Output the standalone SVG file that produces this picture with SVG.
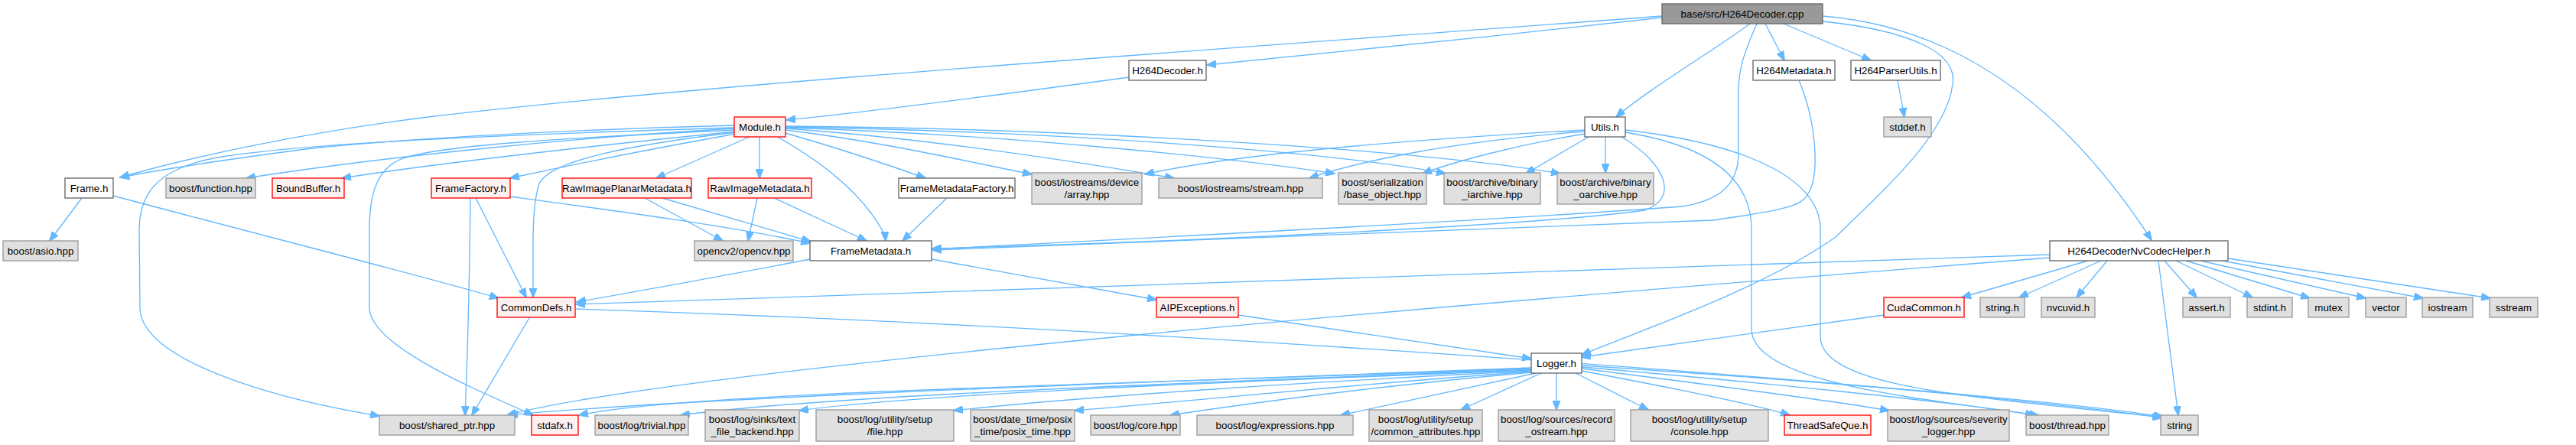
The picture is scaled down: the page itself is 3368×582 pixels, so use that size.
<svg xmlns="http://www.w3.org/2000/svg" width="3368" height="582" viewBox="0 0 3368 582">
<style>
.n rect{stroke-width:1.33}
.w rect{fill:#ffffff;stroke:#666666}
.g rect{fill:#e0e0e0;stroke:#999999}
.r rect{fill:#fff0f0;stroke:#ff0000}
.root rect{fill:#999999;stroke:#666666}
text{font-family:"Liberation Sans",Arial,sans-serif;font-size:13.33px;fill:#000;text-anchor:middle}
.e path{fill:none;stroke:#63b8ff;stroke-width:1.33;marker-end:url(#ah)}
</style>
<defs>
<marker id="ah" viewBox="0 0 13 10" refX="12" refY="5" markerWidth="13" markerHeight="10" markerUnits="userSpaceOnUse" orient="auto">
<path d="M0,0 L13,5 L0,10 z" fill="#63b8ff" stroke="#63b8ff"/>
</marker>
</defs>
<rect width="3368" height="582" fill="#ffffff"/>
<g id="edges" class="e">
<path d="M2173,23 C1980,45 1750,68 1578,85"/>
<path d="M2173,21 C1600,64 900,112 560,153 C400,173 250,205 157,232"/>
<path d="M2308,31 L2333,79"/>
<path d="M2332,31 L2446,79"/>
<path d="M2288,31 C2250,60 2150,120 2113,153"/>
<path d="M2297,31 C2280,70 2273,90 2273,120 L2273,200 C2273,240 2250,262 2200,270 C1900,292 1400,316 1219,326"/>
<path d="M2352,105 C2375,160 2380,230 2363,255 C2355,268 2340,274 2240,288 C1800,306 1400,320 1219,327"/>
<path d="M2120,179 C2180,215 2195,260 2150,275 C2000,296 1500,318 1219,325"/>
<path d="M2383,28 C2500,40 2560,70 2553,110 C2545,180 2450,260 2400,310 C2300,380 2150,430 2068,464"/>
<path d="M2383,21 C2560,35 2700,140 2813,314"/>
<path d="M2481,105 L2490,153"/>
<path d="M1476,101 C1300,125 1150,145 1028,157"/>
<path d="M960,164 C800,168 560,178 400,195 C300,208 220,220 157,232"/>
<path d="M960,167 C700,175 420,185 290,205 C210,218 182,250 182,300 L183,403 C185,470 350,520 496,544"/>
<path d="M960,170 C750,180 560,190 520,210 C490,225 483,260 483,300 L483,403 C485,450 600,500 697,543"/>
<path d="M960,168 C750,180 500,205 322,233"/>
<path d="M962,172 C780,190 560,215 447,233"/>
<path d="M962,175 C850,195 750,215 667,233"/>
<path d="M962,173 C820,190 720,210 705,240 C695,270 697,320 697,389"/>
<path d="M980,179 L858,233"/>
<path d="M993,179 L993,233"/>
<path d="M1015,178 C1070,210 1110,240 1140,280 C1150,295 1157,305 1158,315"/>
<path d="M1027,174 C1100,195 1160,215 1210,233"/>
<path d="M1027,170 C1150,185 1250,208 1349,228"/>
<path d="M1027,168 C1200,180 1400,210 1535,233"/>
<path d="M1027,167 C1300,175 1600,205 1745,227"/>
<path d="M1027,166 C1400,172 1750,200 1890,227"/>
<path d="M1027,165 C1400,168 1850,195 2040,227"/>
<path d="M107,259 L65,315"/>
<path d="M148,256 C350,310 550,360 652,390"/>
<path d="M615,259 C614,350 612,450 608,543"/>
<path d="M622,259 L688,389"/>
<path d="M667,257 C800,275 950,295 1059,318"/>
<path d="M843,259 L945,315"/>
<path d="M866,259 L1060,316"/>
<path d="M990,259 L978,315"/>
<path d="M1012,259 L1133,315"/>
<path d="M1238,259 L1180,315"/>
<path d="M1059,339 C950,360 850,378 754,395"/>
<path d="M1218,339 L1512,392"/>
<path d="M693,414 L617,543"/>
<path d="M753,404 C1400,425 2400,490 2826,546"/>
<path d="M1619,412 L2002,469"/>
<path d="M2463,412 L2068,467"/>
<path d="M2680,333 C2000,355 1200,385 753,398"/>
<path d="M2680,337 C2000,390 900,480 663,543"/>
<path d="M2730,341 L2565,389"/>
<path d="M2747,341 L2640,389"/>
<path d="M2755,341 L2715,389"/>
<path d="M2830,341 L2872,389"/>
<path d="M2845,341 L2945,389"/>
<path d="M2858,341 L3020,390"/>
<path d="M2877,341 L3093,390"/>
<path d="M2900,340 L3168,390"/>
<path d="M2913,338 L3256,390"/>
<path d="M2822,341 L2848,543"/>
<path d="M2002,481 C1500,500 900,520 665,543"/>
<path d="M2002,482 C1500,502 900,512 757,543"/>
<path d="M2002,483 C1600,500 1100,515 890,543"/>
<path d="M2002,484 C1600,500 1200,515 1045,537"/>
<path d="M2002,485 C1700,500 1400,520 1247,537"/>
<path d="M2002,486 C1800,500 1550,525 1405,537"/>
<path d="M2002,487 C1800,505 1650,525 1530,543"/>
<path d="M2008,488 L1753,543"/>
<path d="M2015,488 L1910,536"/>
<path d="M2035,488 L2035,536"/>
<path d="M2060,488 L2155,536"/>
<path d="M2068,485 C2200,510 2300,530 2340,543"/>
<path d="M2068,482 C2250,505 2400,525 2470,537"/>
<path d="M2068,480 C2300,500 2550,525 2660,543"/>
<path d="M2068,478 C2400,500 2700,525 2828,545"/>
<path d="M2072,170 C1800,185 1600,205 1497,228"/>
<path d="M2072,172 C1900,185 1780,210 1712,233"/>
<path d="M2072,175 C1980,190 1900,212 1860,227"/>
<path d="M2077,179 L1995,227"/>
<path d="M2099,179 L2099,226"/>
<path d="M2125,173 C2230,190 2290,230 2290,300 L2290,430 C2290,500 2500,520 2665,543"/>
<path d="M2125,170 C2300,190 2380,240 2380,300 L2380,440 C2380,510 2600,520 2828,546"/>
</g>
<g id="n1" class="n root"><rect x="2173" y="5" width="210" height="26"/><text x="2278" y="22.5">base/src/H264Decoder.cpp</text></g>
<g id="n2" class="n w"><rect x="1476" y="79" width="101" height="26"/><text x="1526.5" y="96.5">H264Decoder.h</text></g>
<g id="n3" class="n w"><rect x="2292" y="79" width="107" height="26"/><text x="2345.5" y="96.5">H264Metadata.h</text></g>
<g id="n4" class="n w"><rect x="2420" y="79" width="117" height="26"/><text x="2478.5" y="96.5">H264ParserUtils.h</text></g>
<g id="n5" class="n r"><rect x="960" y="153" width="67" height="26"/><text x="993.5" y="170.5">Module.h</text></g>
<g id="n6" class="n w"><rect x="2072" y="153" width="53" height="26"/><text x="2098.5" y="170.5">Utils.h</text></g>
<g id="n7" class="n g"><rect x="2463" y="153" width="62" height="26"/><text x="2494" y="170.5">stddef.h</text></g>
<g id="n8" class="n w"><rect x="85" y="233" width="63" height="26"/><text x="116.5" y="250.5">Frame.h</text></g>
<g id="n9" class="n g"><rect x="217" y="233" width="117" height="26"/><text x="275.5" y="250.5">boost/function.hpp</text></g>
<g id="n10" class="n r"><rect x="356" y="233" width="94" height="26"/><text x="403" y="250.5">BoundBuffer.h</text></g>
<g id="n11" class="n r"><rect x="564" y="233" width="103" height="26"/><text x="615.5" y="250.5">FrameFactory.h</text></g>
<g id="n12" class="n r"><rect x="735" y="233" width="169" height="26"/><text x="819.5" y="250.5">RawImagePlanarMetadata.h</text></g>
<g id="n13" class="n r"><rect x="926" y="233" width="135" height="26"/><text x="993.5" y="250.5">RawImageMetadata.h</text></g>
<g id="n14" class="n w"><rect x="1175" y="233" width="152" height="26"/><text x="1251" y="250.5">FrameMetadataFactory.h</text></g>
<g id="n15" class="n g"><rect x="1349" y="226" width="144" height="41"/><text x="1421" y="243">boost/iostreams/device</text><text x="1421" y="259">/array.hpp</text></g>
<g id="n16" class="n g"><rect x="1515" y="233" width="214" height="26"/><text x="1622" y="250.5">boost/iostreams/stream.hpp</text></g>
<g id="n17" class="n g"><rect x="1750" y="226" width="115" height="41"/><text x="1807.5" y="243">boost/serialization</text><text x="1807.5" y="259">/base_object.hpp</text></g>
<g id="n18" class="n g"><rect x="1888" y="226" width="126" height="41"/><text x="1951" y="243">boost/archive/binary</text><text x="1951" y="259">_iarchive.hpp</text></g>
<g id="n19" class="n g"><rect x="2036" y="226" width="126" height="41"/><text x="2099" y="243">boost/archive/binary</text><text x="2099" y="259">_oarchive.hpp</text></g>
<g id="n20" class="n g"><rect x="4" y="315" width="98" height="26"/><text x="53" y="332.5">boost/asio.hpp</text></g>
<g id="n21" class="n g"><rect x="908" y="315" width="129" height="26"/><text x="972.5" y="332.5">opencv2/opencv.hpp</text></g>
<g id="n22" class="n w"><rect x="1059" y="315" width="159" height="26"/><text x="1138.5" y="332.5">FrameMetadata.h</text></g>
<g id="n23" class="n w"><rect x="2680" y="315" width="233" height="26"/><text x="2796.5" y="332.5">H264DecoderNvCodecHelper.h</text></g>
<g id="n24" class="n r"><rect x="650" y="389" width="102" height="26"/><text x="701" y="406.5">CommonDefs.h</text></g>
<g id="n25" class="n r"><rect x="1512" y="389" width="107" height="26"/><text x="1565.5" y="406.5">AIPExceptions.h</text></g>
<g id="n26" class="n r"><rect x="2463" y="389" width="105" height="26"/><text x="2515.5" y="406.5">CudaCommon.h</text></g>
<g id="n27" class="n g"><rect x="2589" y="389" width="58" height="26"/><text x="2618" y="406.5">string.h</text></g>
<g id="n28" class="n g"><rect x="2669" y="389" width="70" height="26"/><text x="2704" y="406.5">nvcuvid.h</text></g>
<g id="n29" class="n g"><rect x="2854" y="389" width="62" height="26"/><text x="2885" y="406.5">assert.h</text></g>
<g id="n30" class="n g"><rect x="2938" y="389" width="59" height="26"/><text x="2967.5" y="406.5">stdint.h</text></g>
<g id="n31" class="n g"><rect x="3018" y="389" width="53" height="26"/><text x="3044.5" y="406.5">mutex</text></g>
<g id="n32" class="n g"><rect x="3093" y="389" width="53" height="26"/><text x="3119.5" y="406.5">vector</text></g>
<g id="n33" class="n g"><rect x="3167" y="389" width="66" height="26"/><text x="3200" y="406.5">iostream</text></g>
<g id="n34" class="n g"><rect x="3255" y="389" width="63" height="26"/><text x="3286.5" y="406.5">sstream</text></g>
<g id="n35" class="n w"><rect x="2002" y="462" width="66" height="26"/><text x="2035" y="479.5">Logger.h</text></g>
<g id="n36" class="n g"><rect x="496" y="543" width="177" height="26"/><text x="584.5" y="560.5">boost/shared_ptr.hpp</text></g>
<g id="n37" class="n r"><rect x="695" y="543" width="61" height="26"/><text x="725.5" y="560.5">stdafx.h</text></g>
<g id="n38" class="n g"><rect x="778" y="543" width="122" height="26"/><text x="839" y="560.5">boost/log/trivial.hpp</text></g>
<g id="n39" class="n g"><rect x="922" y="536" width="123" height="41"/><text x="983.5" y="553">boost/log/sinks/text</text><text x="983.5" y="569">_file_backend.hpp</text></g>
<g id="n40" class="n g"><rect x="1067" y="536" width="180" height="41"/><text x="1157" y="553">boost/log/utility/setup</text><text x="1157" y="569">/file.hpp</text></g>
<g id="n41" class="n g"><rect x="1269" y="536" width="136" height="41"/><text x="1337" y="553">boost/date_time/posix</text><text x="1337" y="569">_time/posix_time.hpp</text></g>
<g id="n42" class="n g"><rect x="1426" y="543" width="117" height="26"/><text x="1484.5" y="560.5">boost/log/core.hpp</text></g>
<g id="n43" class="n g"><rect x="1565" y="543" width="204" height="26"/><text x="1667" y="560.5">boost/log/expressions.hpp</text></g>
<g id="n44" class="n g"><rect x="1790" y="536" width="148" height="41"/><text x="1864" y="553">boost/log/utility/setup</text><text x="1864" y="569">/common_attributes.hpp</text></g>
<g id="n45" class="n g"><rect x="1959" y="536" width="152" height="41"/><text x="2035" y="553">boost/log/sources/record</text><text x="2035" y="569">_ostream.hpp</text></g>
<g id="n46" class="n g"><rect x="2132" y="536" width="180" height="41"/><text x="2222" y="553">boost/log/utility/setup</text><text x="2222" y="569">/console.hpp</text></g>
<g id="n47" class="n r"><rect x="2333" y="543" width="113" height="26"/><text x="2389.5" y="560.5">ThreadSafeQue.h</text></g>
<g id="n48" class="n g"><rect x="2468" y="536" width="159" height="41"/><text x="2547.5" y="553">boost/log/sources/severity</text><text x="2547.5" y="569">_logger.hpp</text></g>
<g id="n49" class="n g"><rect x="2649" y="543" width="108" height="26"/><text x="2703" y="560.5">boost/thread.hpp</text></g>
<g id="n50" class="n g"><rect x="2825" y="543" width="49" height="26"/><text x="2849.5" y="560.5">string</text></g>
</svg>
